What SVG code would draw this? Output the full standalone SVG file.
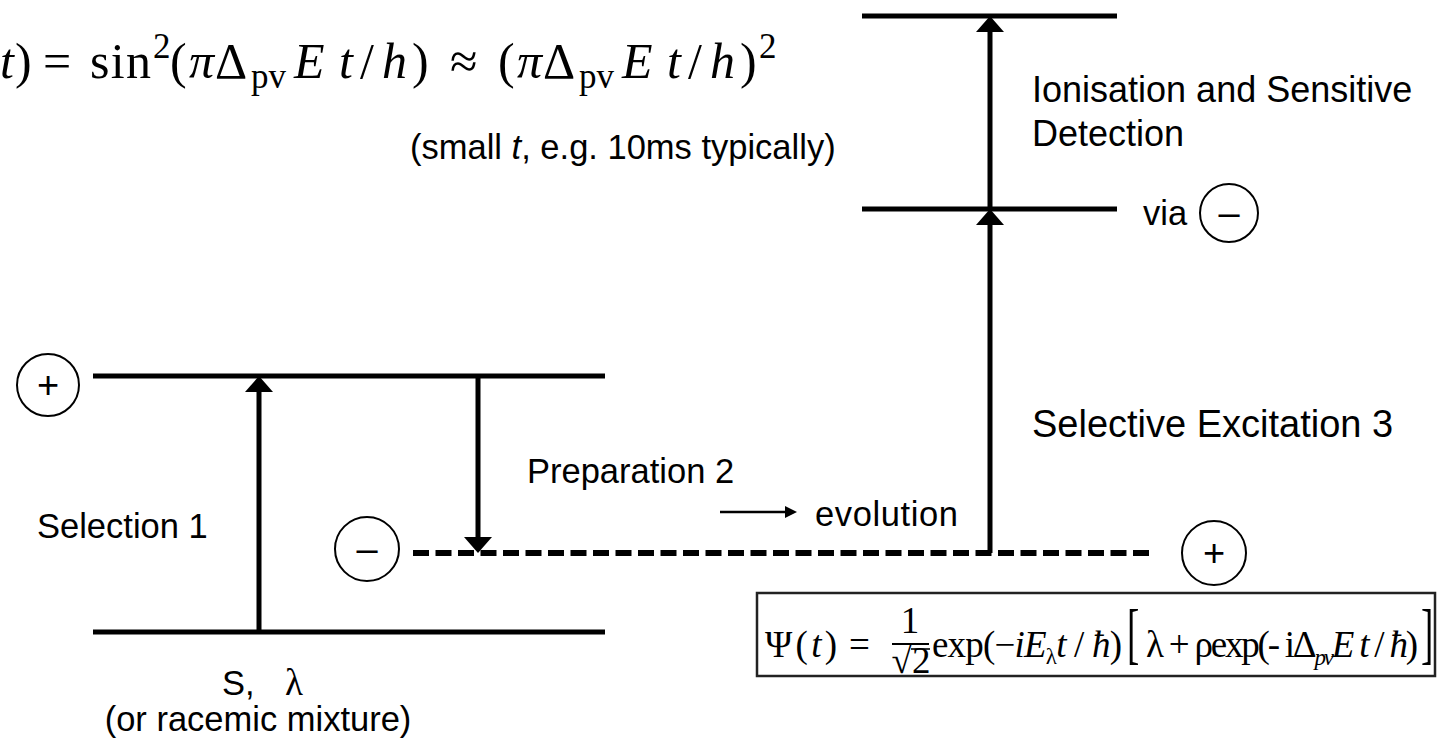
<svg xmlns="http://www.w3.org/2000/svg" width="1439" height="751" viewBox="0 0 1439 751">
<style>
.lv{stroke:#000;stroke-width:5;fill:none}
.ar{stroke:#000;stroke-width:5;fill:none;marker-end:url(#ah)}
.dash{stroke:#000;stroke-width:6;fill:none;stroke-dasharray:16 6.5}
.circ{fill:#fff;stroke:#000;stroke-width:2}
.lbl{font-family:"Liberation Sans",Arial,sans-serif;font-size:34.5px;fill:#000}
.big{font-size:36px}
.sg{font-family:"Liberation Sans",Arial,sans-serif;font-size:38px;text-anchor:middle;fill:#000}
.m{font-family:"Liberation Serif","Times New Roman",serif;font-size:37px;fill:#000}
.cm{font-family:"Liberation Serif","DejaVu Serif",serif;font-size:50px;fill:#000}
.it{font-style:italic}
</style>
<defs>
<marker id="ah" markerUnits="userSpaceOnUse" markerWidth="16" markerHeight="28" viewBox="0 0 16 28" refX="10" refY="14" orient="auto"><path d="M0,0 L16,14 L0,28 Z" fill="#000"/></marker>
<marker id="ah2" markerUnits="userSpaceOnUse" markerWidth="12" markerHeight="12" viewBox="0 0 12 12" refX="8" refY="6" orient="auto"><path d="M0,0 L12,6 L0,12 Z" fill="#000"/></marker>
</defs>

<g id="formula-top">
<text class="cm"><tspan x="0" y="78" class="it">t</tspan><tspan x="15" y="78">)</tspan><tspan x="43" y="78">=</tspan><tspan x="90" y="78" textLength="61">sin</tspan><tspan x="153" y="58" font-size="35">2</tspan><tspan x="170" y="78">(</tspan><tspan x="189" y="78" class="it">π</tspan><tspan x="215" y="78">Δ</tspan><tspan x="251" y="88" font-size="35">pv</tspan><tspan x="294" y="78" class="it">E</tspan><tspan x="339" y="78" class="it">t</tspan><tspan x="360" y="78">/</tspan><tspan x="382" y="78" class="it">h</tspan><tspan x="412" y="78">)</tspan><tspan x="450" y="78">≈</tspan><tspan x="498" y="78">(</tspan><tspan x="517" y="78" class="it">π</tspan><tspan x="543" y="78">Δ</tspan><tspan x="579" y="88" font-size="35">pv</tspan><tspan x="622" y="78" class="it">E</tspan><tspan x="667" y="78" class="it">t</tspan><tspan x="688" y="78">/</tspan><tspan x="710" y="78" class="it">h</tspan><tspan x="740" y="78">)</tspan><tspan x="759" y="58" font-size="35">2</tspan></text>
</g>

<g id="note-small-t"><text class="lbl" x="410" y="159">(small <tspan class="it">t</tspan>, e.g. 10ms typically)</text></g>

<g id="level-ion"><line class="lv" x1="862" y1="16" x2="1117" y2="16"/></g>
<g id="level-mid"><line class="lv" x1="862" y1="209" x2="1117" y2="209"/></g>
<g id="label-ion"><text class="lbl big" x="1032" y="102">Ionisation and Sensitive</text><text class="lbl big" x="1032" y="146">Detection</text></g>
<g id="label-via"><text class="lbl" x="1143" y="225">via</text><circle class="circ" cx="1229" cy="213" r="29"/><text class="sg" x="1229" y="226">–</text></g>
<g id="label-sel3"><text class="lbl" x="1032" y="437" style="font-size:38px">Selective Excitation 3</text></g>

<g id="level-plus-left"><circle class="circ" cx="48" cy="385" r="31"/><text class="sg" x="48" y="398">+</text><line class="lv" x1="93" y1="376" x2="605" y2="376"/></g>
<g id="level-ground"><line class="lv" x1="93" y1="632" x2="605" y2="632"/></g>
<g id="label-sel1"><text class="lbl" x="37" y="538">Selection 1</text></g>
<g id="label-prep2"><text class="lbl" x="527" y="483">Preparation 2</text></g>
<g id="label-evol"><text class="lbl" x="815" y="526" textLength="143">evolution</text></g>
<g id="level-dashed"><circle class="circ" cx="367" cy="549" r="32"/><text class="sg" x="367" y="562">–</text><line class="dash" x1="413" y1="553" x2="1155" y2="553"/><circle class="circ" cx="1214" cy="553" r="32"/><text class="sg" x="1214" y="566">+</text></g>
<g id="label-s"><text class="lbl" x="222" y="695">S,</text><text class="m" x="285" y="695">λ</text><text class="lbl" x="258" y="731" text-anchor="middle">(or racemic mixture)</text></g>

<g id="formula-box">
<rect x="757" y="593" width="678" height="83" fill="none" stroke="#222" stroke-width="2.5"/>
<text class="m" x="765" y="657" textLength="72">Ψ(<tspan class="it">t</tspan>)</text>
<text class="m" x="849" y="657">=</text>
<text class="m" x="910" y="633" text-anchor="middle">1</text>
<line x1="892" y1="644" x2="929" y2="644" stroke="#000" stroke-width="1.8"/>
<text class="m" x="911" y="673" text-anchor="middle">√2</text>
<line x1="911" y1="649" x2="930" y2="649" stroke="#000" stroke-width="1.6"/>
<text class="m" x="932" y="657" textLength="190">exp(−<tspan class="it">iE</tspan><tspan dy="7" font-size="23">λ</tspan><tspan dy="-7" class="it">t</tspan> / <tspan class="it">ħ</tspan>)</text>
<text class="m" transform="translate(1127,656) scale(1,1.8)">[</text>
<text class="m" x="1146" y="657" textLength="272">λ + ρexp(- iΔ<tspan dy="8" font-size="23" class="it">pv</tspan><tspan dy="-8" class="it">E</tspan> <tspan class="it">t</tspan> / <tspan class="it">ħ</tspan>)</text>
<text class="m" transform="translate(1421,656) scale(1,1.8)">]</text>
</g>

<g id="connectors">
<line class="ar" x1="259" y1="632" x2="259" y2="382"/>
<line class="ar" x1="478" y1="376" x2="478" y2="547"/>
<line class="ar" x1="990" y1="553" x2="990" y2="215"/>
<line class="ar" x1="990" y1="209" x2="990" y2="22"/>
<line x1="720" y1="512" x2="793" y2="512" stroke="#000" stroke-width="2.5" marker-end="url(#ah2)"/>
</g>
</svg>
